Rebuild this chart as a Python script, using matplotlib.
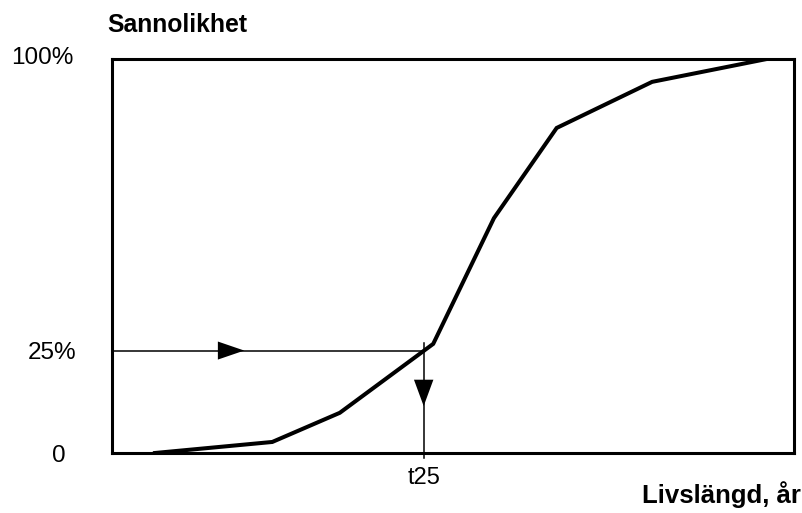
import matplotlib
matplotlib.use("Agg")
import matplotlib.pyplot as plt
from matplotlib.patches import FancyArrowPatch
from matplotlib.transforms import ScaledTranslation

plt.rcParams['font.family'] = ['Liberation Sans', 'DejaVu Sans']

# Data (x in arbitrary lifetime units 0-100, y in percent)
lifetime = [6.3, 23.5, 33.4, 47.1, 56.0, 65.2, 79.2, 96.0]
probability = [0.0, 2.8, 10.2, 27.7, 59.6, 82.5, 94.2, 100.0]
t25 = 45.7
p25 = 26.0
ytick_vals = [0, p25, 100]
ytick_labels = ['0', '25%', '100%']
xtick_vals = [t25]
xtick_labels = ['t25']

fig = plt.figure(figsize=(8.03, 5.13), dpi=100)
ax = fig.add_axes([112/803, 1-453/513, 682/803, 394/513])
ax.set_xlim(0, 100)
ax.set_ylim(0, 100)

ax.plot(lifetime, probability, color='black', lw=2.9, solid_joinstyle='miter', zorder=3)

# reading lines
ax.plot([0, t25], [p25, p25], color='black', lw=1.1, zorder=2)
ax.plot([t25, t25], [-1.3, p25 + 1.9], color='black', lw=1.1, zorder=2, clip_on=False)

arr_h = FancyArrowPatch((15.0, p25), (19.8, p25), arrowstyle='-|>,head_length=19,head_width=6.5',
                        mutation_scale=1, color='black', lw=0, zorder=4)
ax.add_patch(arr_h)
arr_v = FancyArrowPatch((t25, 19.0), (t25, 11.2), arrowstyle='-|>,head_length=19,head_width=7',
                        mutation_scale=1, color='black', lw=0, zorder=4)
ax.add_patch(arr_v)

for s in ax.spines.values():
    s.set_linewidth(2.2)

ax.set_yticks(ytick_vals)
ax.set_yticklabels(ytick_labels, fontsize=17.5)
ax.set_xticks(xtick_vals)
ax.set_xticklabels(xtick_labels, fontsize=17)
ax.tick_params(axis='y', length=0, pad=26)
ax.tick_params(axis='x', length=0, pad=10)

# adjust individual y labels
labs = ax.get_yticklabels()
labs[0].set_horizontalalignment('center')
labs[0].set_transform(labs[0].get_transform() + ScaledTranslation(-0.17, 0, fig.dpi_scale_trans))
labs[2].set_transform(labs[2].get_transform() + ScaledTranslation(-0.02, 0.03, fig.dpi_scale_trans))

fig.text(107/803, 1-32/513, 'Sannolikhet', fontsize=17.8, fontweight='bold', ha='left', va='baseline')
fig.text(801/803, 1-503/513, 'Livslängd, år', fontsize=18.5, fontweight='bold', ha='right', va='baseline')

fig.savefig('out.png', dpi=100)
